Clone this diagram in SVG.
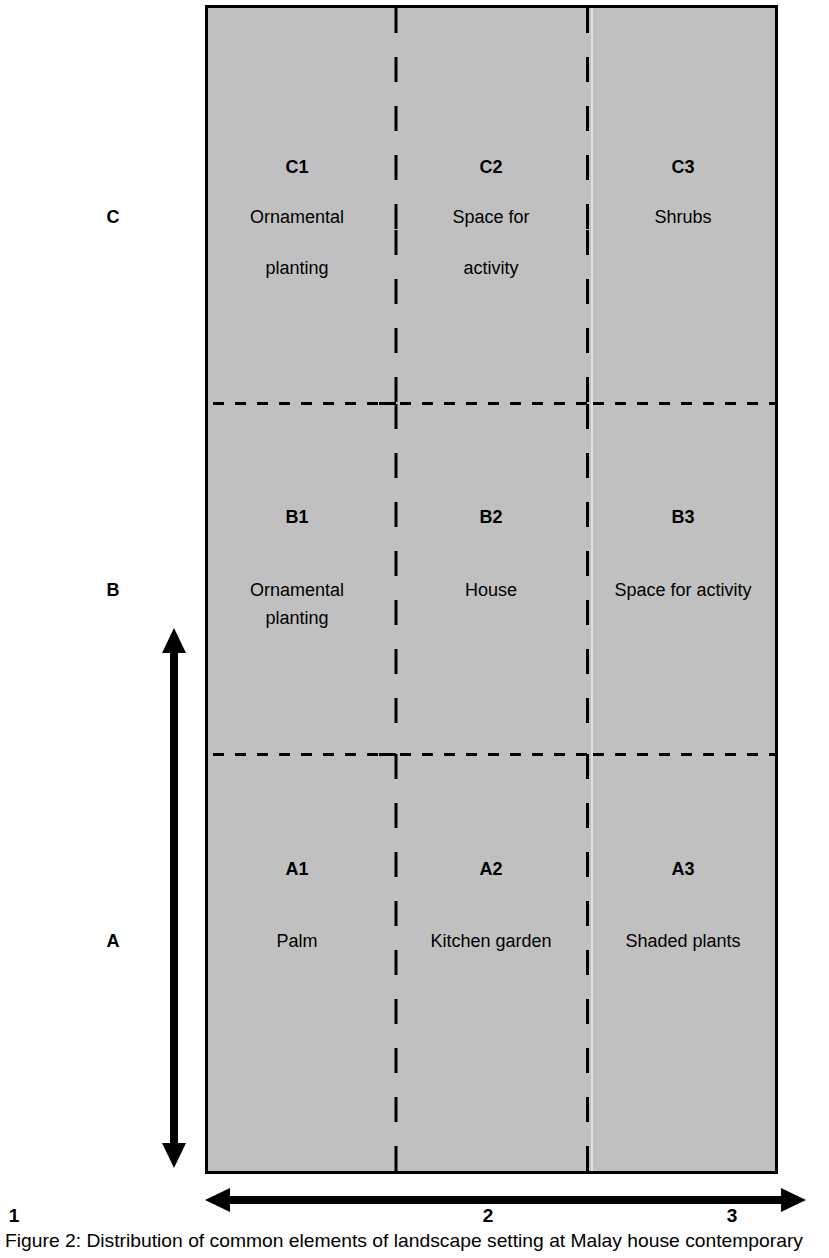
<svg xmlns="http://www.w3.org/2000/svg" width="829" height="1258" viewBox="0 0 829 1258">
<style>
.t{font-family:"Liberation Sans",Arial,sans-serif;font-size:18px;fill:#000;text-anchor:middle}
.b{font-weight:bold}
.vd{stroke:#000;stroke-width:3;stroke-dasharray:25 24;fill:none}
.hd{stroke:#000;stroke-width:3;stroke-dasharray:11 11;fill:none}
</style>
<rect width="829" height="1258" fill="#fff"/>
<g id="plot">
<rect x="206.5" y="6.5" width="570" height="1166" fill="#c0c0c0" stroke="#000" stroke-width="3"/>
<line x1="592" y1="8" x2="592" y2="1171" stroke="#fff" stroke-width="1"/>
</g>
<g id="grid">
<line class="vd" x1="396" y1="8" x2="396" y2="229"/>
<line class="vd" x1="396" y1="230" x2="396" y2="403"/>
<line class="vd" x1="396" y1="404" x2="396" y2="740"/>
<line class="vd" x1="396" y1="754" x2="396" y2="1171"/>
<line class="vd" x1="587.5" y1="8" x2="587.5" y2="229"/>
<line class="vd" x1="587.5" y1="230" x2="587.5" y2="403"/>
<line class="vd" x1="587.5" y1="404" x2="587.5" y2="740"/>
<line class="vd" x1="587.5" y1="754" x2="587.5" y2="1171"/>
<line class="hd" x1="208" y1="403.5" x2="390" y2="403.5" stroke-dashoffset="-5"/>
<line x1="379" y1="403.5" x2="396" y2="403.5" stroke="#000" stroke-width="3"/>
<line class="hd" x1="400" y1="403.5" x2="587" y2="403.5"/>
<line class="hd" x1="593" y1="403.5" x2="775" y2="403.5"/>
<line class="hd" x1="208" y1="754.5" x2="390" y2="754.5" stroke-dashoffset="-5"/>
<line x1="379" y1="754.5" x2="396" y2="754.5" stroke="#000" stroke-width="3"/>
<line class="hd" x1="400" y1="754.5" x2="587" y2="754.5"/>
<line class="hd" x1="593" y1="754.5" x2="775" y2="754.5"/>
</g>
<g id="C1"><text class="t b" x="297" y="173">C1</text><text class="t" x="297" y="223">Ornamental</text><text class="t" x="297" y="274">planting</text></g>
<g id="C2"><text class="t b" x="491" y="173">C2</text><text class="t" x="491" y="223">Space for</text><text class="t" x="491" y="274">activity</text></g>
<g id="C3"><text class="t b" x="683" y="173">C3</text><text class="t" x="683" y="223">Shrubs</text></g>
<g id="B1"><text class="t b" x="297" y="523">B1</text><text class="t" x="297" y="596">Ornamental</text><text class="t" x="297" y="624">planting</text></g>
<g id="B2"><text class="t b" x="491" y="523">B2</text><text class="t" x="491" y="596">House</text></g>
<g id="B3"><text class="t b" x="683" y="523">B3</text><text class="t" x="683" y="596">Space for activity</text></g>
<g id="A1"><text class="t b" x="297" y="875">A1</text><text class="t" x="297" y="947">Palm</text></g>
<g id="A2"><text class="t b" x="491" y="875">A2</text><text class="t" x="491" y="947">Kitchen garden</text></g>
<g id="A3"><text class="t b" x="683" y="875">A3</text><text class="t" x="683" y="947">Shaded plants</text></g>
<g id="rows"><text class="t b" x="113" y="223">C</text><text class="t b" x="113" y="596">B</text><text class="t b" x="113" y="947">A</text></g>
<g id="connectors">
<rect x="170" y="652" width="8" height="492" fill="#000"/>
<polygon points="174,628 186,653 162,653" fill="#000"/>
<polygon points="174,1168 186,1143 162,1143" fill="#000"/>
<rect x="229" y="1196" width="553" height="8" fill="#000"/>
<polygon points="205,1200 230,1188 230,1212" fill="#000"/>
<polygon points="806,1200 781,1188 781,1212" fill="#000"/>
</g>
<g id="axis"><text class="t b" x="14" y="1222" style="font-size:19px">1</text><text class="t b" x="488" y="1222" style="font-size:19px">2</text><text class="t b" x="732" y="1222" style="font-size:19px">3</text></g>
<text class="t" x="5" y="1247" style="text-anchor:start;font-size:19px" textLength="798" lengthAdjust="spacingAndGlyphs">Figure 2: Distribution of common elements of landscape setting at Malay house contemporary</text>
</svg>
